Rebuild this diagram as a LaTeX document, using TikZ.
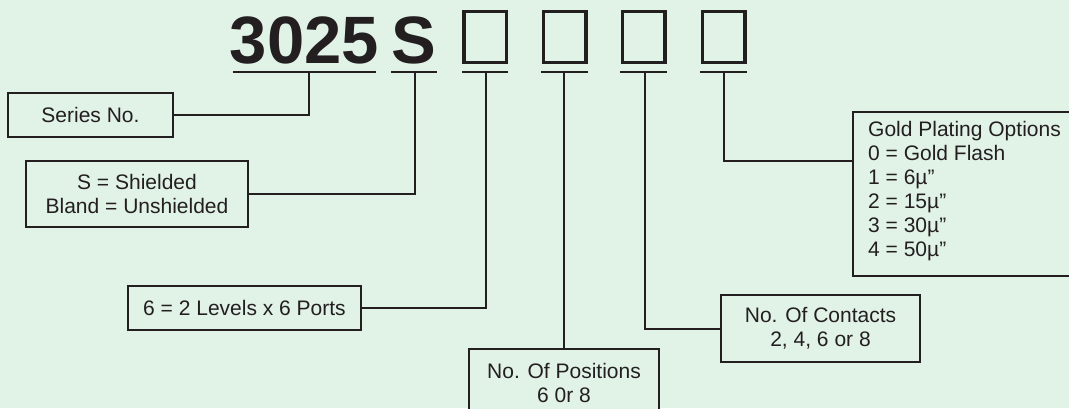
\documentclass[tikz,border=0pt]{standalone}
\usepackage{fontspec}
\setmainfont{Liberation Sans}
\usetikzlibrary{positioning}
\definecolor{bgmint}{RGB}{225,242,231}
\definecolor{ink}{RGB}{35,31,32}

\begin{document}
\begin{tikzpicture}[x=1pt,y=-1pt,
    code/.style={font=\fontsize{67}{67}\selectfont\bfseries,text=ink,inner sep=0pt},
    slot/.style={draw=ink,line width=3.5pt,minimum width=42.5pt,
      minimum height=51pt,inner sep=0pt},
    lbl/.style={draw=ink,line width=2.4pt,fill=bgmint,text=ink,
      font=\fontsize{21}{24}\selectfont,align=center,inner sep=0pt},
    uline/.style={ink,line width=2pt},
    wire/.style={ink,line width=2pt}
  ]
  \useasboundingbox (0,0) rectangle (1069,408);
  \clip (0,0) rectangle (1069,408);
  \fill[bgmint] (0,0) rectangle (1069,408);

  % Part number
  \node[code,anchor=base] (num) at (304.5,63) {3025};
  \node[code,anchor=base] (ltrS) at (414,63) {S};
  \node[slot] (slotLvl) at (485,37) {};
  \node[slot] (slotPos) at (564.5,37) {};
  \node[slot] (slotCnt) at (643.5,37) {};
  \node[slot] (slotGld) at (723.5,37) {};

  % Underlines
  \draw[uline] (233,72) -- (376,72);
  \draw[uline] (391,72) -- (437,72);
  \draw[uline] (462,72) -- (508,72);
  \draw[uline] (541,72) -- (588,72);
  \draw[uline] (620,72) -- (667,72);
  \draw[uline] (700,72) -- (747,72);
  \coordinate (uNum) at (309,72);
  \coordinate (uS) at (415,72);
  \coordinate (uLvl) at (486,72);
  \coordinate (uPos) at (564,72);
  \coordinate (uCnt) at (645,72);
  \coordinate (uGld) at (724,72);

  % Option boxes
  \node[lbl,minimum width=165pt,minimum height=44pt] (ser) at (90.5,115)
    {Series No.};
  \node[lbl,minimum width=222pt,minimum height=66pt] (shd) at (137,194)
    {S = Shielded\\Bland = Unshielded};
  \node[lbl,minimum width=233pt,minimum height=44pt] (lvl) at (244.5,308)
    {6 = 2 Levels x 6 Ports};
  \node[lbl,minimum width=190pt,minimum height=67pt] (pos) at (564,382.5)
    {No. Of Positions\\6 0r 8};
  \node[lbl,minimum width=199pt,minimum height=67pt] (cnt) at (820.5,328.5)
    {No. Of Contacts\\2, 4, 6 or 8};
  \node[lbl,minimum width=240pt,minimum height=164pt,anchor=north west]
    (gold) at (852,111) {};
  \node[anchor=north west,align=left,inner sep=0pt,text=ink,
    font=\fontsize{21}{24}\selectfont] (goldtxt) at (868,121.5)
    {Gold Plating Options\\0 = Gold Flash\\1 = 6µ”\\2 = 15µ”\\3 = 30µ”\\4 = 50µ”};

  % Leaders
  \draw[wire] (ser.east) -| (uNum);
  \draw[wire] (shd.east) -| (uS);
  \draw[wire] (lvl.east) -| (uLvl);
  \draw[wire] (pos.north) -- (uPos);
  \draw[wire] (cnt.west) -| (uCnt);
  \draw[wire] ([yshift=-50pt]gold.north west) -| (uGld);
\end{tikzpicture}
\end{document}
